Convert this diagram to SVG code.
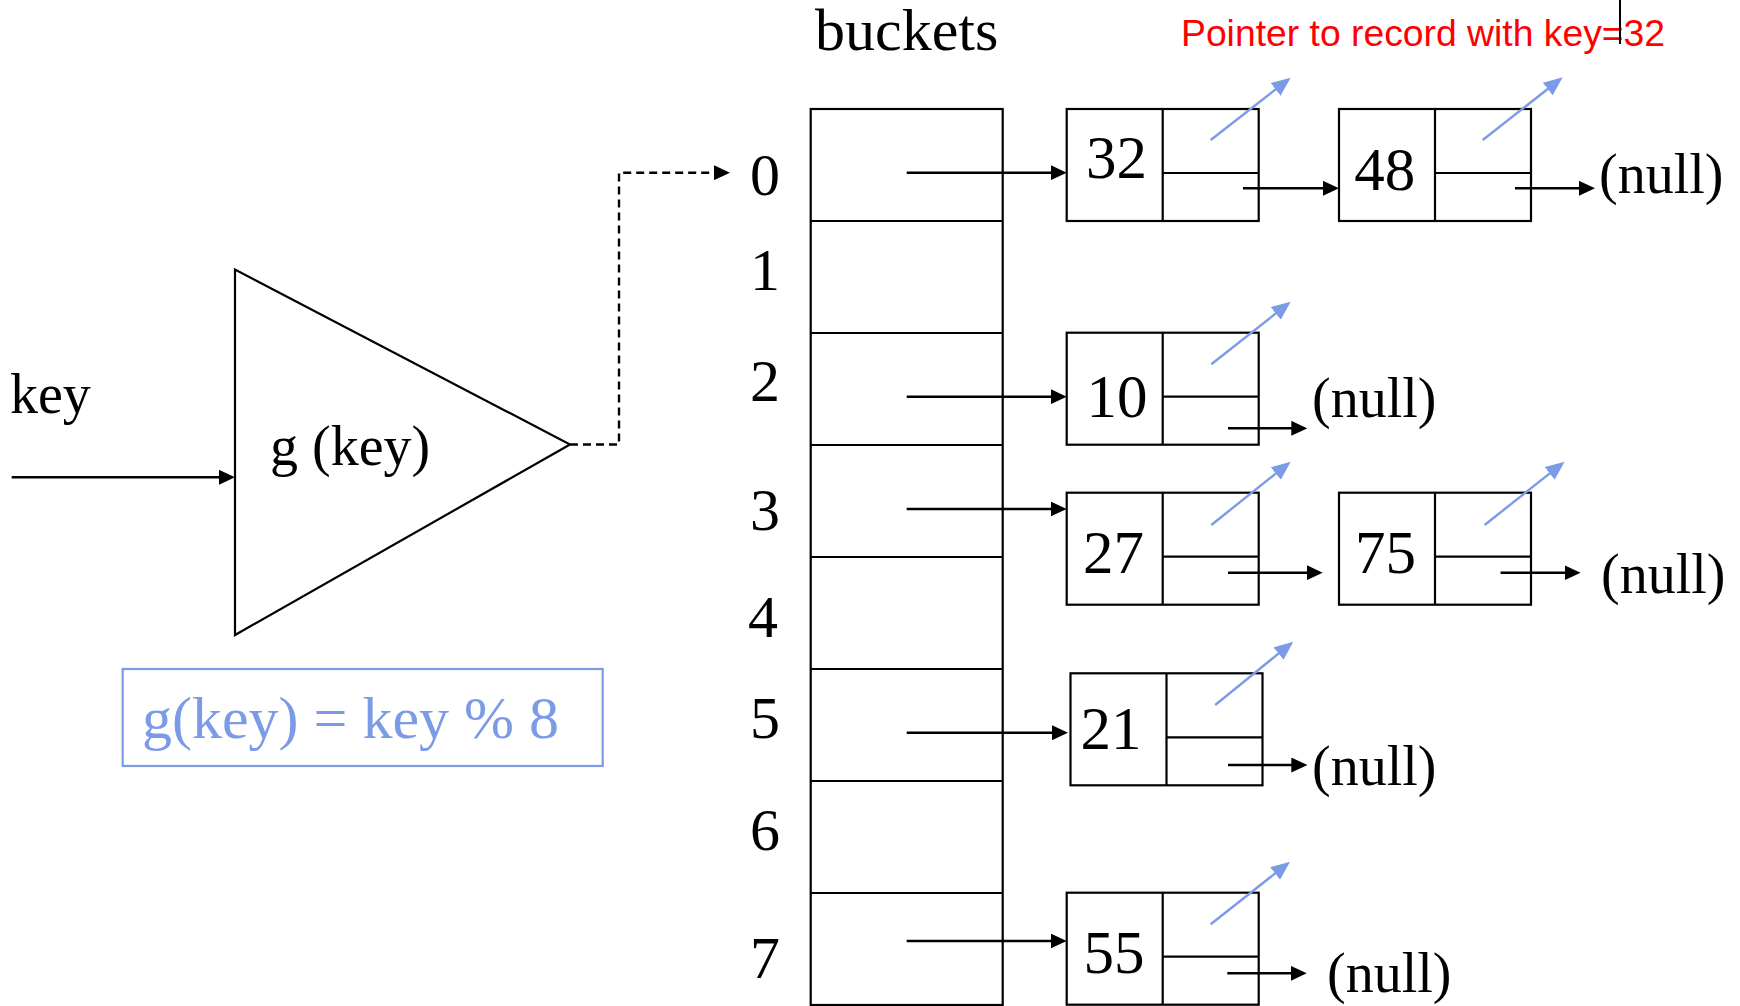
<svg xmlns="http://www.w3.org/2000/svg" width="1740" height="1006" viewBox="0 0 1740 1006">
  <style>
    .box { fill: #ffffff; stroke: #000000; stroke-width: 2.2; }
    .div { fill: none; stroke: #000000; stroke-width: 2.2; }
    .serif { font-family: "Liberation Serif", "Times New Roman", serif; fill: #000000; }
    .idx { font-size: 60px; text-anchor: middle; }
    .num { font-size: 61px; text-anchor: middle; }
    .null { font-size: 56px; }
    .link { fill: none; stroke: #000000; stroke-width: 2.5; marker-end: url(#head); }
    .dash { fill: none; stroke: #000000; stroke-width: 2.4; stroke-dasharray: 8 5; marker-end: url(#head); }
    .rec { fill: none; stroke: #7b9be6; stroke-width: 2.4; marker-end: url(#bluehead); }
  </style>
  <defs>
    <marker id="head" markerUnits="userSpaceOnUse" markerWidth="16" markerHeight="15" refX="12" refY="7.5" orient="auto">
      <path d="M0,0 L16,7.5 L0,15 Z" fill="#000000"/>
    </marker>
    <marker id="bluehead" markerUnits="userSpaceOnUse" markerWidth="19" markerHeight="16" refX="15" refY="8" orient="auto">
      <path d="M0,0 L19,8 L0,16 Z" fill="#7b9be6"/>
    </marker>
  </defs>

  <rect width="1740" height="1006" fill="#ffffff"/>

  <!-- input label -->
  <g id="key-input">
    <text class="serif" x="10" y="413" font-size="56">key</text>
  </g>

  <!-- hash function -->
  <g id="hash-function">
    <polygon points="235,269.5 235,635 570,444.5" fill="#ffffff" stroke="#000000" stroke-width="2.2"/>
    <text class="serif" x="270" y="465" font-size="56">g (key)</text>
  </g>

  <!-- hash formula -->
  <g id="formula">
    <rect x="122.7" y="669" width="480" height="97" fill="none" stroke="#7b9be6" stroke-width="2.2"/>
    <text x="142" y="738" font-family="Liberation Serif, Times New Roman, serif" font-size="60" fill="#7b9be6">g(key) = key % 8</text>
  </g>

  <!-- bucket array -->
  <g id="buckets">
    <text class="serif" x="815" y="50" font-size="60">buckets</text>
    <rect class="box" x="810.7" y="109" width="192" height="896"/>
    <path class="div" d="M810.7,221 H1002.7 M810.7,333 H1002.7 M810.7,445 H1002.7 M810.7,557 H1002.7 M810.7,669 H1002.7 M810.7,781 H1002.7 M810.7,893 H1002.7"/>
    <text class="serif idx" x="765" y="195">0</text>
    <text class="serif idx" x="765" y="290">1</text>
    <text class="serif idx" x="765" y="401">2</text>
    <text class="serif idx" x="765" y="530">3</text>
    <text class="serif idx" x="763" y="637">4</text>
    <text class="serif idx" x="765" y="738">5</text>
    <text class="serif idx" x="765" y="850">6</text>
    <text class="serif idx" x="765" y="978">7</text>
  </g>

  <!-- list nodes: key cell, record pointer cell, next pointer cell -->
  <g id="node-32">
    <rect class="box" x="1066.7" y="109" width="192" height="112"/>
    <path class="div" d="M1162.7,109 V221 M1162.7,173 H1258.7"/>
    <text class="serif num" x="1116.5" y="178">32</text>
  </g>
  <g id="node-48">
    <rect class="box" x="1339" y="109" width="192" height="112"/>
    <path class="div" d="M1435,109 V221 M1435,173 H1531"/>
    <text class="serif num" x="1384.7" y="190">48</text>
  </g>
  <g id="node-10">
    <rect class="box" x="1066.7" y="332.7" width="192" height="112"/>
    <path class="div" d="M1162.7,332.7 V444.7 M1162.7,396.7 H1258.7"/>
    <text class="serif num" x="1117" y="417">10</text>
  </g>
  <g id="node-27">
    <rect class="box" x="1066.7" y="492.7" width="192" height="112"/>
    <path class="div" d="M1162.7,492.7 V604.7 M1162.7,556.7 H1258.7"/>
    <text class="serif num" x="1113.4" y="573">27</text>
  </g>
  <g id="node-75">
    <rect class="box" x="1339" y="492.7" width="192" height="112"/>
    <path class="div" d="M1435,492.7 V604.7 M1435,556.7 H1531"/>
    <text class="serif num" x="1385.4" y="573">75</text>
  </g>
  <g id="node-21">
    <rect class="box" x="1070.5" y="673.3" width="192" height="112"/>
    <path class="div" d="M1166.5,673.3 V785.3 M1166.5,737.3 H1262.5"/>
    <text class="serif num" x="1111" y="749">21</text>
  </g>
  <g id="node-55">
    <rect class="box" x="1066.7" y="892.7" width="192" height="112"/>
    <path class="div" d="M1162.7,892.7 V1004.7 M1162.7,956.7 H1258.7"/>
    <text class="serif num" x="1114" y="973">55</text>
  </g>

  <!-- list terminators -->
  <g id="null-labels">
    <text class="serif null" x="1599" y="193">(null)</text>
    <text class="serif null" x="1312" y="417">(null)</text>
    <text class="serif null" x="1601" y="593">(null)</text>
    <text class="serif null" x="1312" y="785">(null)</text>
    <text class="serif null" x="1327" y="992">(null)</text>
  </g>

  <!-- annotation -->
  <g id="annotation">
    <text x="1181" y="45.7" font-family="Liberation Sans, Arial, sans-serif" font-size="37.3" fill="#ff0000">Pointer to record with key=32</text>
    <line x1="1620" y1="0" x2="1620" y2="44" stroke="#000000" stroke-width="2"/>
  </g>

  <g id="connectors">
    <!-- key into hash function -->
    <line class="link" x1="11.7" y1="477.3" x2="231" y2="477.3"/>
    <!-- hash result to bucket index -->
    <path class="dash" d="M570,444.5 H619 V172.7 H726"/>
    <!-- bucket heads -->
    <line class="link" x1="906.7" y1="172.7" x2="1062.7" y2="172.7"/>
    <line class="link" x1="906.7" y1="396.7" x2="1062.7" y2="396.7"/>
    <line class="link" x1="906.7" y1="509" x2="1062.7" y2="509"/>
    <line class="link" x1="906.7" y1="732.7" x2="1064" y2="732.7"/>
    <line class="link" x1="906.7" y1="941" x2="1062.7" y2="941"/>
    <!-- next pointers -->
    <line class="link" x1="1243" y1="188.3" x2="1335" y2="188.3"/>
    <line class="link" x1="1515" y1="188.3" x2="1591" y2="188.3"/>
    <line class="link" x1="1228" y1="428.3" x2="1303.3" y2="428.3"/>
    <line class="link" x1="1228" y1="572.7" x2="1318.7" y2="572.7"/>
    <line class="link" x1="1500.6" y1="572.7" x2="1576.6" y2="572.7"/>
    <line class="link" x1="1228" y1="765" x2="1303.3" y2="765"/>
    <line class="link" x1="1227.3" y1="973.3" x2="1302.7" y2="973.3"/>
    <!-- record pointers -->
    <line class="rec" x1="1210.7" y1="140" x2="1287.45" y2="80.16"/>
    <line class="rec" x1="1482.7" y1="140" x2="1559.55" y2="79.76"/>
    <line class="rec" x1="1211.3" y1="364.3" x2="1287.55" y2="304.16"/>
    <line class="rec" x1="1211.3" y1="525" x2="1287.55" y2="464.16"/>
    <line class="rec" x1="1484.6" y1="525" x2="1561.45" y2="464.16"/>
    <line class="rec" x1="1215.2" y1="705" x2="1290.15" y2="644.16"/>
    <line class="rec" x1="1210.7" y1="924.3" x2="1286.85" y2="864.16"/>
  </g>
</svg>
